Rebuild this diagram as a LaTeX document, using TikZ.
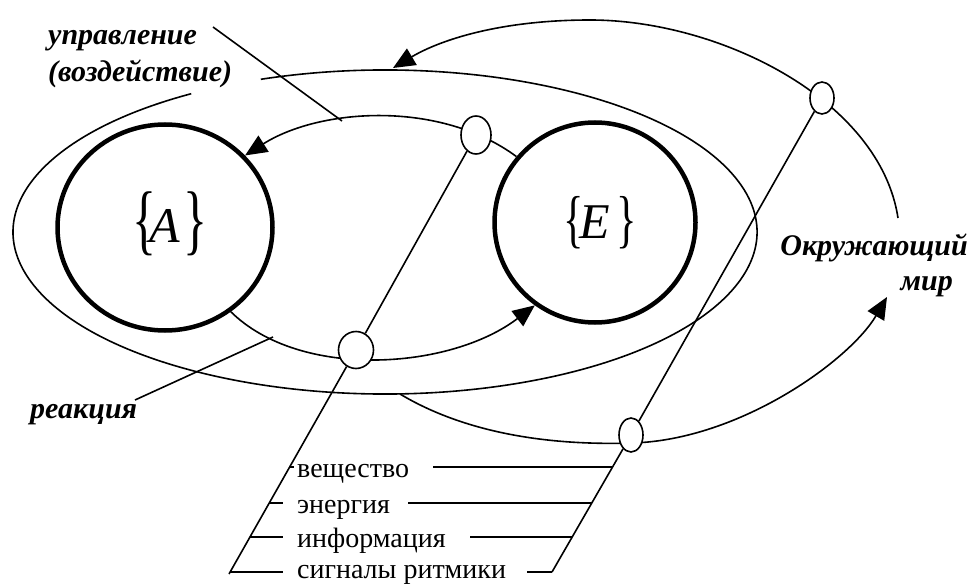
\documentclass[tikz,border=0pt]{standalone}
\usepackage{fontspec}
\setmainfont{Liberation Serif}
\usepackage{graphicx}
\usetikzlibrary{arrows.meta,shapes.geometric}
\begin{document}
\begin{tikzpicture}[x=1pt,y=-1pt,
  thinl/.style={line width=1.6pt},
  bigc/.style={draw, line width=4.5pt, ellipse, inner sep=0pt},
  oval/.style={draw, line width=1.6pt, fill=white, ellipse, inner sep=0pt},
  lbl/.style={font=\fontsize{30}{32}\selectfont\bfseries\itshape, inner sep=0pt},
  leg/.style={font=\fontsize{28}{30}\selectfont, inner sep=0pt, anchor=base west},
  arr/.style={-{Triangle[length=22pt,width=19pt]}},
]
\useasboundingbox (0,0) rectangle (971,585);

% the two sets
\node[bigc, minimum width=215pt, minimum height=206pt] (A) at (165,227.5) {};
\node[bigc, minimum width=201pt, minimum height=200pt] (E) at (595,222.5) {};
\node[inner sep=0pt] (At) at (170,223.5) {\fontsize{50}{50}\selectfont\raisebox{-3pt}{\scalebox{1}[1.55]{\{}}\kern-7pt\textit{A}\kern3pt\raisebox{-3pt}{\scalebox{1}[1.55]{\}}}};
\node[inner sep=0pt] (Et) at (600,222.5) {\fontsize{50}{50}\selectfont\raisebox{-2pt}{\scalebox{0.85}[1.27]{\{}}\kern-4pt\textit{E}\kern6pt\raisebox{-2pt}{\scalebox{0.85}[1.27]{\}}}};

% inner loop
\draw[thinl,arr] (E.140) .. controls (440,100) and (320,108) .. (A.42);
\draw[thinl,arr] (A.-52) .. controls (300,380) and (450,370) .. (E.-126);

% big ellipse with a gap for the label
\draw[thinl] ([shift={(-109.5:372 and 162)}]385,232) arc[start angle=-109.5, end angle=238.6, x radius=372, y radius=162];

% outer loop
\draw[thinl,arr] (898,218) .. controls (880,100) and (720,20) .. (590,20) .. controls (500,20) and (440,40) .. (393,68);
\draw[thinl,arr] (400,394) .. controls (460,430) and (540,446) .. (632,443) .. controls (740,440) and (850,360) .. (887,297);

% junction ovals
\node[oval, minimum width=30pt, minimum height=38pt] (T1) at (476,135) {};
\node[oval, minimum width=24pt, minimum height=32pt] (T2) at (822,98) {};
\node[oval, minimum width=24pt, minimum height=34pt] (T3) at (631,435) {};
\node[oval, minimum width=35pt, minimum height=37pt] (C) at (356,350) {};

% slanted lines
\coordinate (L1b) at (229,574);
\coordinate (L2b) at (552,572);
\draw[thinl] (T1) -- (C);
\draw[thinl] (C) -- (L1b);
\draw[thinl] (T2) -- (T3);
\draw[thinl] (T3) -- (L2b);

% legend
\node[leg] (t1) at (297,477) {вещество};
\node[leg] (t2) at (297,513) {энергия};
\node[leg] (t3) at (297,547) {информация};
\node[leg] (t4) at (297,578) {сигналы ритмики};
\coordinate (a1) at (289,467); \coordinate (b1) at (294,467);
\coordinate (c1) at (433,467); \coordinate (d1) at (612,467);
\coordinate (a2) at (269,503); \coordinate (b2) at (283,503);
\coordinate (c2) at (408,503); \coordinate (d2) at (592,503);
\coordinate (a3) at (250,537); \coordinate (b3) at (283,537);
\coordinate (c3) at (470,537); \coordinate (d3) at (572,537);
\coordinate (a4) at (230,572); \coordinate (b4) at (283,572);
\coordinate (c4) at (527,572);
\draw[thinl] (a1) -- (b1) (c1) -- (d1);
\draw[thinl] (a2) -- (b2) (c2) -- (d2);
\draw[thinl] (a3) -- (b3) (c3) -- (d3);
\draw[thinl] (a4) -- (b4) (c4) -- (L2b);

% labels
\node[lbl, anchor=base west] (upr) at (48,45) {управление};
\node[lbl, anchor=base west] (vozd) at (48,82) {(воздействие)};
\node[lbl, anchor=base west] (reak) at (30,418) {реакция};
\node[lbl, anchor=base east] (okr) at (968,255) {Окружающий};
\node[lbl, anchor=base east] (mir) at (953,290) {мир};

% leaders
\coordinate (u1) at (213,27); \coordinate (u2) at (342,121);
\coordinate (r1) at (135,400); \coordinate (r2) at (273,337);
\draw[thinl] (u1) -- (u2);
\draw[thinl] (r1) -- (r2);
\end{tikzpicture}
\end{document}
